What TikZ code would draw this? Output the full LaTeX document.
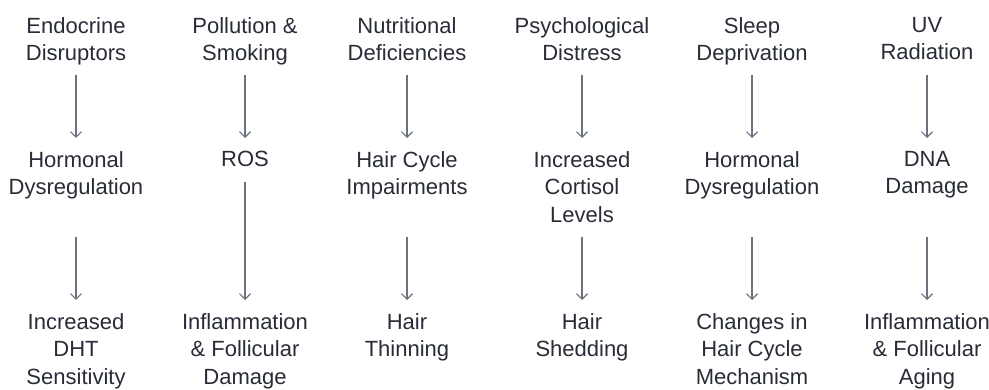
\documentclass[tikz,border=0pt]{standalone}
\usepackage{fontspec}
\setmainfont{Liberation Sans}
\usetikzlibrary{arrows.meta}

\definecolor{textcolor}{RGB}{40,44,54}
\definecolor{arrowcolor}{RGB}{107,114,128}

\tikzset{
  cause/.style={align=center, anchor=north, inner sep=0pt, text=textcolor,
    font=\fontsize{22}{27.5}\selectfont},
  flow/.style={-{Straight Barb[length=5.5pt,width=11pt]}, arrowcolor, line width=1.2pt},
}

\begin{document}
\begin{tikzpicture}[x=1pt,y=-1pt]
  \useasboundingbox (0,0) rectangle (989,390);

  % Top row: triggers
  \foreach \x/\n/\label in {76/1/{Endocrine\\Disruptors}, 245/2/{Pollution \&\\Smoking},
      407/3/{Nutritional\\Deficiencies}, 582/4/{Psychological\\Distress},
      752/5/{Sleep\\Deprivation}, 927/6/{UV\\Radiation}} {
    \node[cause] (top\n) at (\x,17) {\label};
  }

  % Middle row: mechanisms
  \foreach \x/\n/\label in {76/1/{Hormonal\\Dysregulation}, 245/2/{ROS},
      407/3/{Hair Cycle\\Impairments}, 582/4/{Increased\\Cortisol\\Levels},
      752/5/{Hormonal\\Dysregulation}, 927/6/{DNA\\Damage}} {
    \node[cause] (mid\n) at (\x,151) {\label};
  }

  % Bottom row: outcomes
  \foreach \x/\n/\label in {76/1/{Increased\\DHT\\Sensitivity}, 245/2/{Inflammation\\\& Follicular\\Damage},
      407/3/{Hair\\Thinning}, 582/4/{Hair\\Shedding},
      752/5/{Changes in\\Hair Cycle\\Mechanism}, 927/6/{Inflammation\\\& Follicular\\Aging}} {
    \node[cause] (bot\n) at (\x,313) {\label};
  }

  % Arrows
  \foreach \n in {1,...,6} {
    \draw[flow] ([yshift=-58pt]top\n.north) -- ([yshift=13pt]mid\n.north);
  }
  \foreach \n/\gap in {1/86, 2/31, 3/86, 4/86, 5/86, 6/86} {
    \draw[flow] ([yshift=-\gap pt]mid\n.north) -- ([yshift=13pt]bot\n.north);
  }
\end{tikzpicture}
\end{document}
